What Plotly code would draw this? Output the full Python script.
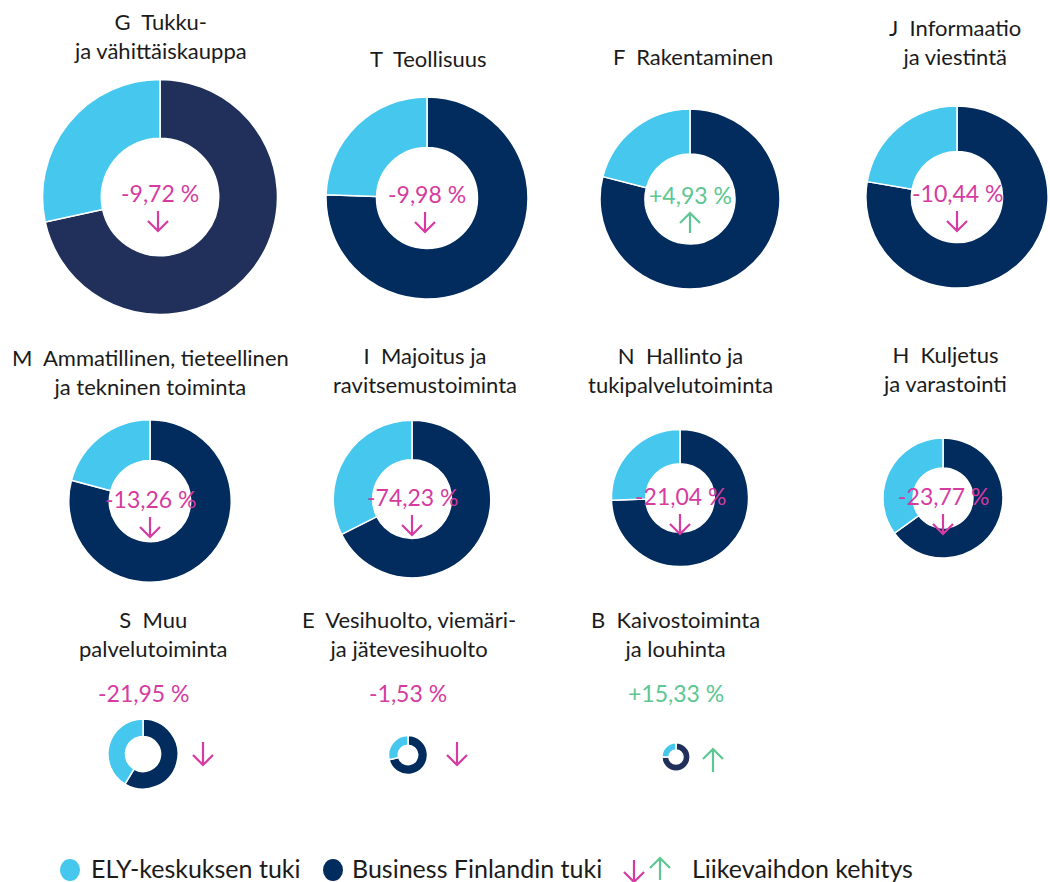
import math
import plotly.graph_objects as go

# ---------------- data ----------------
tol_koodit = ["G", "T", "F", "J", "M", "I", "N", "H", "S", "E", "B"]
toimialat = [
    "Tukku-<br>ja vähittäiskauppa",
    "Teollisuus",
    "Rakentaminen",
    "Informaatio<br>ja viestintä",
    "Ammatillinen, tieteellinen<br>ja tekninen toiminta",
    "Majoitus ja<br>ravitsemustoiminta",
    "Hallinto ja<br>tukipalvelutoiminta",
    "Kuljetus<br>ja varastointi",
    "Muu<br>palvelutoiminta",
    "Vesihuolto, viemäri-<br>ja jätevesihuolto",
    "Kaivostoiminta<br>ja louhinta",
]
ely_osuus = [28.4, 24.5, 21.0, 22.3, 20.9, 32.4, 25.5, 35.0, 41.4, 29.0, 25.0]
bf_osuus = [71.6, 75.5, 79.0, 77.7, 79.1, 67.6, 74.5, 65.0, 58.6, 71.0, 75.0]
tuki_yhteensa = [138, 102, 81, 83, 66, 62, 47, 36, 12.3, 3.8, 2.0]   # relative total support
liikevaihdon_kehitys = [-9.72, -9.98, 4.93, -10.44, -13.26, -74.23, -21.04, -23.77, -21.95, -1.53, 15.33]
sarjat = ["ELY-keskuksen tuki", "Business Finlandin tuki"]

# ---------------- layout / style ----------------
W, H = 1050, 882
LIGHT = "#45c7ee"
DARK = "#022c5e"
DARK_ALT = "#20305a"
PINK = "#d53ba1"
GREEN = "#5cc792"
TXT = "#1b1b1b"
FONT = "Lato"
WEIGHT = 400

# cell centres (pixels)
centres = [(160, 197), (427, 198), (690, 199), (957, 197),
           (150, 501), (412, 499), (680, 498), (943, 498),
           (143, 754), (408, 755), (676, 757)]
title_y = [36, 58, 57, 42, 372, 370, 370, 369, 634, 634, 634]
title_x = [160, 428, 693, 955, 150, 425, 680, 945, 153, 409, 675]
dark_cols = [DARK_ALT, DARK, DARK, DARK, DARK, DARK, DARK, DARK, DARK, DARK, DARK_ALT]
small_arrow_dx = [60, 49, 37]
K = 10.0  # px per sqrt(unit)


def px(x):
    return x / W


def py(y):
    return 1 - y / H


fig = go.Figure()
ann = []
shapes = []


def arrow(x, y_top, length, hw, up, color):
    y_bot = y_top + length
    if up:
        path = (f"M {px(x)},{py(y_bot)} L {px(x)},{py(y_top)} "
                f"M {px(x - hw)},{py(y_top + hw)} L {px(x)},{py(y_top)} L {px(x + hw)},{py(y_top + hw)}")
    else:
        path = (f"M {px(x)},{py(y_top)} L {px(x)},{py(y_bot)} "
                f"M {px(x - hw)},{py(y_bot - hw)} L {px(x)},{py(y_bot)} L {px(x + hw)},{py(y_bot - hw)}")
    shapes.append(dict(type="path", xref="paper", yref="paper", path=path,
                       line=dict(color=color, width=2.2)))


def fmt(v):
    s = f"{abs(v):.2f}".replace(".", ",")
    return ("+" if v > 0 else "-") + s + " %"


for i, code in enumerate(tol_koodit):
    cx, cy = centres[i]
    r = K * math.sqrt(tuki_yhteensa[i])
    # Business Finland first: with counterclockwise it fills clockwise from 12 o'clock,
    # ELY then continues counterclockwise from 12 o'clock (left side).
    fig.add_trace(go.Pie(
        values=[bf_osuus[i], ely_osuus[i]],
        labels=[sarjat[1], sarjat[0]],
        hole=0.5,
        sort=False,
        direction="counterclockwise",
        rotation=0,
        textinfo="none",
        hoverinfo="label+percent",
        marker=dict(colors=[dark_cols[i], LIGHT], line=dict(color="white", width=1.5)),
        domain=dict(x=[px(cx - r), px(cx + r)], y=[py(cy + r), py(cy - r)]),
        showlegend=False,
    ))
    # title
    ann.append(dict(x=px(title_x[i]), y=py(title_y[i]), xref="paper", yref="paper",
                    text=f"{code}  {toimialat[i]}", showarrow=False,
                    font=dict(family=FONT, size=22, color=TXT, weight=WEIGHT),
                    xanchor="center", yanchor="middle"))
    v = liikevaihdon_kehitys[i]
    col = GREEN if v > 0 else PINK
    if i < 8:
        ty = cy - 4 if i < 4 else cy - 2
        ann.append(dict(x=px(cx), y=py(ty), xref="paper", yref="paper", text=fmt(v),
                        showarrow=False, font=dict(family=FONT, size=23, color=col, weight=WEIGHT),
                        xanchor="center", yanchor="middle"))
        arrow(cx - 2 if i < 2 else cx, ty + 18, 20, 10, v > 0, col)
    else:
        ann.append(dict(x=px(cx), y=py(693), xref="paper", yref="paper", text=fmt(v),
                        showarrow=False, font=dict(family=FONT, size=23, color=col, weight=WEIGHT),
                        xanchor="center", yanchor="middle"))
        arrow(cx + small_arrow_dx[i - 8], 742 if i < 10 else 749, 23, 10, v > 0, col)

# legend
leg_y = 868
for (lx, color, label, tx) in [(70, LIGHT, sarjat[0], 89), (333, DARK, sarjat[1], 350)]:
    shapes.append(dict(type="circle", xref="paper", yref="paper",
                       x0=px(lx - 10), x1=px(lx + 10), y0=py(leg_y + 13), y1=py(leg_y - 9),
                       fillcolor=color, line=dict(width=0)))
    ann.append(dict(x=px(tx), y=py(leg_y), xref="paper", yref="paper", text=label,
                    showarrow=False, font=dict(family=FONT, size=25, color=TXT, weight=WEIGHT),
                    xanchor="left", yanchor="middle"))
arrow(634, 860, 22, 10, False, PINK)
arrow(660, 858, 22, 10, True, GREEN)
ann.append(dict(x=px(690), y=py(leg_y), xref="paper", yref="paper", text="Liikevaihdon kehitys",
                showarrow=False, font=dict(family=FONT, size=25, color=TXT, weight=WEIGHT),
                xanchor="left", yanchor="middle"))

fig.update_layout(
    width=W, height=H,
    margin=dict(l=0, r=0, t=0, b=0),
    paper_bgcolor="white", plot_bgcolor="white",
    annotations=ann, shapes=shapes,
    font=dict(family=FONT),
)
fig.write_html("out.html", config={"displayModeBar": False},
               post_script="document.body.style.margin='0';document.body.style.overflow='hidden';")
